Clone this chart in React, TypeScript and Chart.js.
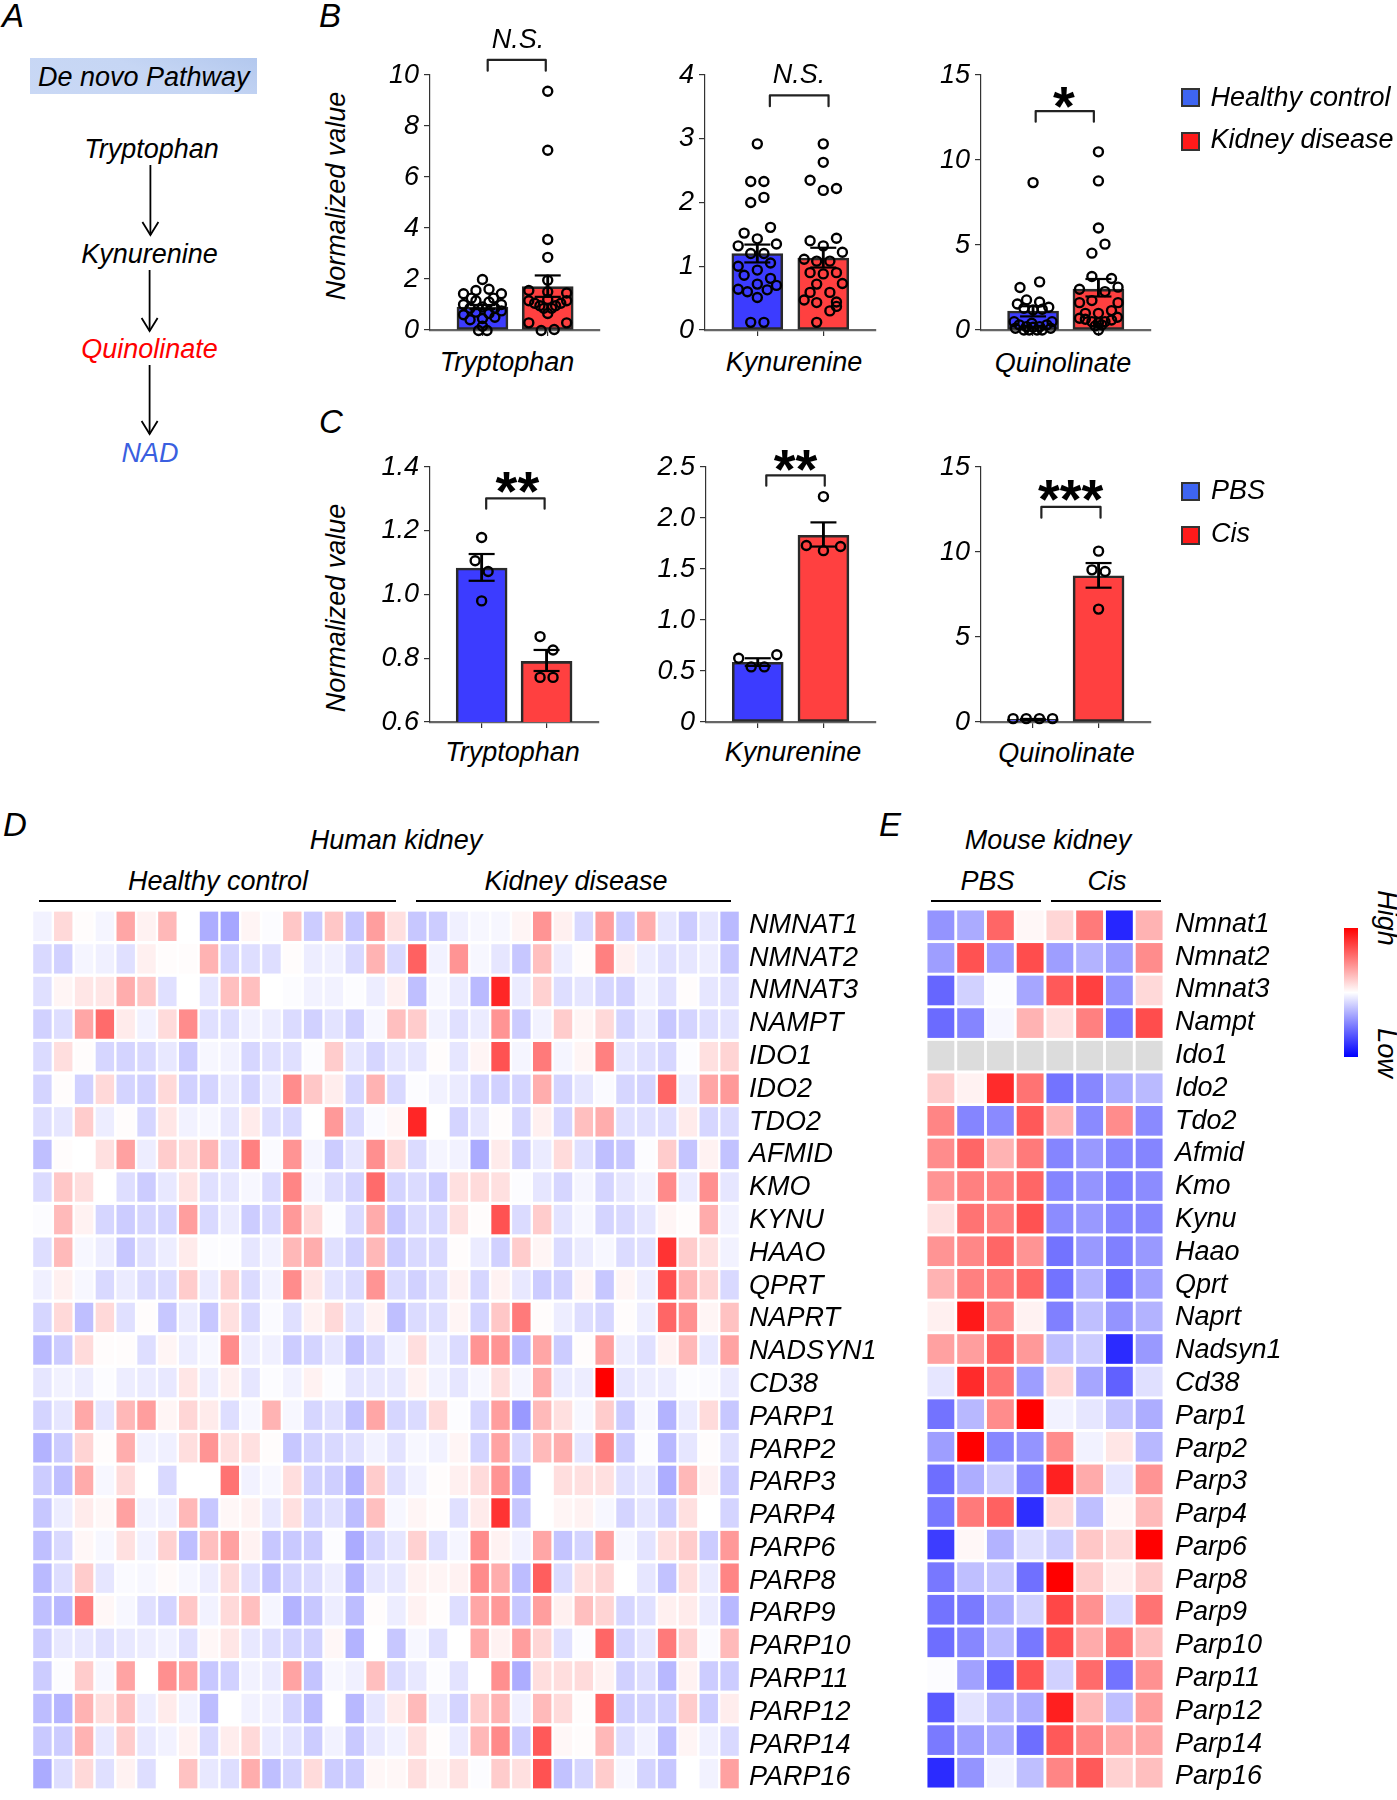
import React, { useEffect, useRef } from "react";
import { Chart, registerables } from "chart.js";

Chart.register(...registerables);

const FONT = '"Liberation Sans", Arial, sans-serif';

// ---------- Panel B data ----------
const groupsB = ["Healthy control", "Kidney disease"];
const groupsC = ["PBS", "Cis"];
const metabolites = ["Tryptophan", "Kynurenine", "Quinolinate"];

const bTrpMeans = [0.9, 1.7];
const bTrpLow = [0.82, 1.3];
const bTrpHigh = [0.98, 2.14];
const bTrpHealthy = [[0,1.98],[.1,1.6],[-.1,1.55],[-.29,1.42],[.29,1.42],[-.17,1.25],[.17,1.25],[-.29,1.0],[-.1,1.15],[.1,1.1],[.29,1.0],[-.19,.85],[0,.9],[.19,.85],[-.29,.6],[-.1,.7],[.1,.65],[.29,.75],[-.19,.4],[0,.45],[.19,.5],[0,.15],[-.06,-.02],[.07,-.02]];
const bTrpDisease = [[0,9.36],[0,7.05],[0,3.55],[0,2.85],[0,1.95],[-.29,1.55],[0,1.5],[.29,1.45],[-.29,1.15],[.29,1.15],[-.2,1.05],[.2,1.05],[-.12,.95],[.12,.95],[-.06,.85],[.06,.85],[0,.65],[-.29,.28],[.29,.28],[-.1,-.02],[.1,.02],[0,1.2]];

const bKynMeans = [1.2, 1.13];
const bKynLow = [1.06, 0.98];
const bKynHigh = [1.34, 1.29];
const bKynHealthy = [[0,2.92],[-.1,2.33],[.1,2.33],[-.1,2.0],[.1,2.08],[.2,1.61],[-.2,1.52],[0,1.43],[-.29,1.32],[.29,1.35],[-.1,1.2],[.1,1.2],[-.29,1.0],[.2,1.05],[0,.94],[-.2,.86],[.2,.81],[-.29,.64],[-.15,.6],[0,.72],[.15,.63],[.29,.7],[0,.51],[-.1,.12],[.1,.12]];
const bKynDisease = [[0,2.92],[0,2.63],[-.2,2.35],[0,2.19],[.2,2.22],[.2,1.44],[-.2,1.4],[0,1.32],[.29,1.22],[-.29,1.11],[-.1,1.08],[.1,1.08],[-.2,.9],[0,.88],[.2,.9],[-.1,.72],[.29,.73],[-.2,.59],[.1,.59],[-.29,.47],[-.1,.43],[.2,.44],[.2,.37],[.1,.3],[-.1,.12]];

const bQuiMeans = [1.12, 2.4];
const bQuiLow = [0.8, 1.97];
const bQuiHigh = [1.4, 3.0];
const bQuiHealthy = [[0,8.67],[.1,2.83],[-.2,2.5],[-.1,1.77],[.1,1.65],[-.24,1.53],[.24,1.34],[-.14,1.28],[0,1.18],[.14,1.22],[-.29,.49],[.29,.49],[-.21,.3],[-.1,.2],[0,.16],[.1,.2],[.21,.3],[-.27,.1],[-.14,0],[-.06,0],[.06,0],[.14,0],[.27,.1],[-.02,.4]];
const bQuiDisease = [[0,10.48],[0,8.77],[0,6.0],[.1,5.05],[-.1,4.52],[-.1,3.15],[.2,3.03],[.3,2.52],[-.29,2.4],[.1,2.26],[-.29,1.61],[-.1,1.73],[.3,1.61],[0,.98],[-.2,.98],[.2,1.14],[-.29,.69],[-.2,.63],[-.1,.49],[0,.43],[.1,.49],[.2,.59],[.29,.75],[-.05,.24],[.05,.3],[0,0]];

// ---------- Panel C data ----------
const cTrpMeans = [1.083, 0.79];
const cTrpLow = [1.043, 0.76];
const cTrpHigh = [1.127, 0.826];
const cTrpPbs = [[0,1.179],[-.1,1.106],[.1,1.072],[0,.98]];
const cTrpCis = [[-.1,.868],[.1,.826],[-.1,.74],[.1,.74]];

const cKynMeans = [0.586, 1.83];
const cKynLow = [0.55, 1.72];
const cKynHigh = [0.625, 1.957];
const cKynPbs = [[-.29,.625],[.29,.66],[-.1,.54],[.1,.54]];
const cKynCis = [[0,2.21],[-.26,1.73],[.26,1.72],[0,1.68]];

const cQuiMeans = [0.15, 8.6];
const cQuiLow = [0.12, 7.9];
const cQuiHigh = [0.18, 9.35];
const cQuiPbs = [[-.3,.2],[-.1,.2],[.1,.2],[.3,.2]];
const cQuiCis = [[0,10.05],[-.1,8.95],[.1,8.85],[0,6.64]];

const ticksTen = [0, 2, 4, 6, 8, 10];
const ticksTenLabels = ["0", "2", "4", "6", "8", "10"];
const ticksFour = [0, 1, 2, 3, 4];
const ticksFourLabels = ["0", "1", "2", "3", "4"];
const ticksFifteen = [0, 5, 10, 15];
const ticksFifteenLabels = ["0", "5", "10", "15"];
const ticksRatio = [0.6, 0.8, 1.0, 1.2, 1.4];
const ticksRatioLabels = ["0.6", "0.8", "1.0", "1.2", "1.4"];
const ticksHalf = [0, 0.5, 1.0, 1.5, 2.0, 2.5];
const ticksHalfLabels = ["0", "0.5", "1.0", "1.5", "2.0", "2.5"];

// ---------- Heatmaps ----------
const humanGenes = ["NMNAT1","NMNAT2","NMNAT3","NAMPT","IDO1","IDO2","TDO2","AFMID","KMO","KYNU","HAAO","QPRT","NAPRT","NADSYN1","CD38","PARP1","PARP2","PARP3","PARP4","PARP6","PARP8","PARP9","PARP10","PARP11","PARP12","PARP14","PARP16"];
const humanValues = [
[-.05,.15,.01,-.04,.35,.05,.28,0,-.32,-.35,.04,-.01,.22,-.2,.22,-.22,.38,.12,-.22,-.2,-.06,-.03,-.03,.04,.42,.06,-.15,.38,-.2,.32,-.1,-.2,-.1,-.27],
[-.15,-.18,-.04,-.06,-.12,.06,.01,.01,.3,-.17,-.13,-.13,.01,-.07,-.06,-.15,.3,-.15,.62,-.05,.42,-.03,-.1,-.22,.25,-.07,.01,.5,.06,-.07,-.12,-.1,-.07,-.22],
[-.12,.04,.1,.1,.32,.22,-.12,0,-.1,.25,.25,0,-.01,-.05,-.05,-.01,-.07,.06,-.25,-.03,-.08,-.27,.85,-.08,.18,-.13,-.1,-.16,-.18,-.05,-.12,.01,-.1,-.12],
[-.18,-.13,.35,.58,.08,-.05,.14,.45,-.12,-.13,-.05,-.07,-.14,-.18,-.11,-.18,-.03,.25,.2,-.05,-.12,-.08,.42,-.2,-.05,.2,.04,.15,-.17,-.08,-.22,-.17,-.13,-.11],
[-.14,.13,.01,-.16,-.17,-.15,-.09,-.2,-.03,-.05,-.16,-.12,-.12,-.01,.2,-.1,-.16,-.1,-.1,.01,-.1,.04,.68,-.04,.52,-.04,.04,.5,-.1,-.12,-.16,-.01,.12,.17],
[-.17,.01,-.18,.15,-.17,-.18,.15,-.18,-.17,-.09,-.17,-.08,.45,.22,.07,-.16,.3,-.15,-.01,-.05,-.08,-.16,-.18,-.17,.32,-.17,-.1,-.02,-.16,-.17,.6,-.08,.35,.4],
[-.13,-.1,.2,-.07,.01,-.16,.1,-.05,-.03,-.1,.08,-.13,-.15,0,.4,-.15,-.02,.03,.85,0,-.17,-.1,.01,-.16,.06,-.17,.25,.32,-.12,-.12,-.13,.08,-.16,-.14],
[-.25,.01,0,.12,.37,-.07,.2,.14,.29,-.12,.5,-.02,.42,-.04,-.2,-.1,.44,.15,-.14,-.04,-.05,-.33,.08,-.18,-.08,.14,-.12,-.25,-.22,-.01,.2,-.23,.05,-.24],
[-.14,.22,.13,0,-.13,-.2,-.09,.11,-.12,-.1,-.03,-.14,.48,-.04,-.13,-.17,.58,-.17,-.14,-.2,.12,.14,.12,-.01,-.1,-.16,-.04,-.17,-.1,-.05,.46,-.08,.44,-.1],
[-.01,.27,.05,-.16,-.2,-.16,-.17,.38,-.15,-.08,-.2,-.15,.4,.14,-.01,-.14,.33,-.22,-.14,-.15,.12,.01,.68,-.14,.2,-.11,-.03,-.17,-.15,-.1,.04,.01,.33,-.05],
[-.13,.27,-.03,-.07,-.22,-.12,-.07,.08,-.01,-.01,-.1,-.05,.28,.32,-.12,-.18,.28,-.2,-.15,-.15,.01,-.08,-.18,.2,.04,-.14,-.08,-.03,-.14,-.12,.8,.2,.12,-.05],
[-.06,.06,-.03,-.15,-.08,-.14,-.14,.2,-.08,.18,-.14,-.05,.45,.1,-.11,-.14,.42,-.14,-.18,-.13,.05,-.16,.05,-.09,-.2,-.18,.04,-.22,.04,-.07,.7,.3,.17,-.15],
[-.16,.15,-.25,.15,-.12,.01,-.22,-.08,-.22,.12,-.15,-.02,-.12,.05,.15,-.11,.05,-.25,-.14,-.13,.04,-.17,.22,.52,.01,-.07,-.13,-.16,.01,-.07,.6,.43,.04,.24],
[-.27,-.2,.14,.01,.01,-.13,.04,-.07,-.03,.45,-.07,-.06,-.2,-.17,-.1,-.24,-.16,-.05,.13,-.07,-.14,.42,.42,-.27,.35,-.2,.01,.38,-.07,-.12,.05,.28,-.09,.36],
[-.1,-.05,-.07,-.01,-.07,-.08,-.09,.1,-.07,.06,-.1,-.01,-.05,.05,-.01,-.1,-.09,-.09,.05,-.05,-.1,-.03,.13,-.04,.33,-.08,-.07,1,-.1,-.07,-.07,-.01,-.02,-.08],
[-.17,-.1,.34,-.1,.28,.38,.04,.16,.08,-.13,-.03,.3,-.03,-.16,-.12,-.24,.35,-.16,-.14,.14,-.01,-.16,.38,-.4,.27,.12,-.03,.2,-.2,-.03,-.3,-.08,.14,-.22],
[-.3,-.2,.17,.01,.32,-.05,-.06,.13,.42,.12,.12,.01,-.22,-.17,-.15,-.12,-.05,-.11,-.03,-.05,.04,-.17,.36,-.15,.27,.32,-.1,.5,-.2,-.01,-.28,-.1,.01,-.12],
[-.2,-.25,.33,-.03,.14,0,-.15,0,0,.55,-.05,-.03,.13,-.18,-.19,-.3,.2,-.12,-.05,.01,.06,.14,.42,-.3,0,.13,.12,.12,-.12,-.09,-.32,.28,.05,-.2],
[-.22,-.07,.08,.03,.37,-.05,-.06,.28,-.22,.03,.05,-.09,.12,-.16,-.12,-.26,.25,-.03,.04,.01,-.12,.08,.8,-.22,0,.04,.05,-.03,-.17,-.1,-.2,.12,0,-.17],
[-.25,-.15,.03,-.03,.12,-.05,.18,-.25,.25,.37,.05,-.22,-.21,-.2,-.01,-.33,-.17,-.1,.18,-.12,-.04,.45,.05,-.05,.35,-.23,-.17,.38,-.03,-.11,.13,.2,-.2,.4],
[-.27,-.13,.2,-.1,-.02,-.03,.02,-.03,-.07,.15,-.12,-.24,-.17,-.14,-.07,-.29,-.1,-.09,.05,.04,.05,.45,.32,-.26,.63,-.14,.12,.17,0,-.1,-.24,.13,-.08,.48],
[-.25,-.28,.52,.03,-.03,-.12,-.17,.22,-.05,.15,.25,-.04,-.3,-.22,-.07,-.26,.01,-.07,.05,.01,-.13,.35,.4,-.22,.38,.06,.25,.17,-.16,-.12,.06,.08,-.08,-.28],
[-.2,-.09,-.09,-.12,-.09,-.07,-.05,-.12,.03,.1,-.09,-.13,-.17,-.18,.03,-.3,0,-.22,-.03,-.12,0,.34,.05,.38,.16,-.12,-.01,.6,-.17,-.1,.52,.18,-.02,.27],
[-.2,-.01,.2,-.03,.36,0,.44,.36,-.22,-.18,-.05,-.08,.36,-.23,-.03,-.06,.25,-.14,-.09,-.01,-.11,0,.44,-.32,.13,.13,.14,.05,-.18,-.13,-.28,.05,-.2,-.2],
[-.26,-.29,.3,.13,.25,-.07,.08,-.05,-.26,0,-.05,-.06,-.17,-.26,0,-.28,-.1,.08,.27,-.07,-.17,.2,.3,-.06,.27,.14,.01,.62,-.19,-.17,-.19,.2,-.2,.07],
[-.21,-.2,.3,-.09,.2,-.09,-.05,.05,-.15,.07,.15,-.08,-.11,-.2,-.05,-.21,-.09,-.05,.12,.01,-.08,.28,.46,-.2,.65,.03,.01,.28,-.13,-.05,-.25,.04,-.06,-.15],
[-.33,-.13,.15,-.12,.05,-.13,0,.24,-.09,-.13,.32,-.25,-.17,.14,-.2,-.2,.03,.03,.13,.04,.11,-.01,.2,.12,.68,-.24,-.16,.2,-.03,-.17,-.22,0,-.05,.37],
];

const mouseGenes = ["Nmnat1","Nmnat2","Nmnat3","Nampt","Ido1","Ido2","Tdo2","Afmid","Kmo","Kynu","Haao","Qprt","Naprt","Nadsyn1","Cd38","Parp1","Parp2","Parp3","Parp4","Parp6","Parp8","Parp9","Parp10","Parp11","Parp12","Parp14","Parp16"];
const mouseValues: (number | null)[][] = [
[-.42,-.33,.6,.03,.16,.52,-.85,.3],
[-.38,.68,-.38,.7,-.38,-.3,-.38,.45],
[-.6,-.18,-.01,-.35,.65,.75,-.42,.15],
[-.58,-.48,-.03,.3,.12,.5,-.52,.7],
[null,null,null,null,null,null,null,null],
[.2,.05,.83,.55,-.55,-.47,-.32,-.27],
[.48,-.48,-.46,.65,.3,-.46,.45,-.46],
[.45,.6,.3,.52,-.48,-.4,-.47,-.48],
[.42,.5,.5,.6,-.48,-.42,-.5,-.45],
[.12,.55,.5,.68,-.45,-.4,-.48,-.47],
[.42,.47,.6,.42,-.55,-.4,-.5,-.4],
[.3,.5,.52,.6,-.55,-.3,-.57,-.37],
[.06,.9,.48,.05,-.5,-.25,-.42,-.3],
[.37,.38,.63,.4,-.25,-.2,-.83,-.4],
[-.1,.83,.55,-.38,.16,-.35,-.62,-.12],
[-.55,-.28,.45,1,-.05,-.1,-.23,-.32],
[-.38,1,-.47,-.42,.45,-.05,.1,-.28],
[-.57,-.32,-.2,-.47,.87,.33,-.1,.42],
[-.53,.52,.62,-.82,.15,-.25,.03,.27],
[-.76,.03,-.3,-.13,-.2,.22,.15,1],
[-.53,-.25,-.22,-.56,1,.2,.06,.2],
[-.55,-.52,-.32,-.18,.72,.43,-.15,.55],
[-.57,-.47,-.27,-.53,.68,.33,.55,.25],
[-.01,-.37,-.6,.67,-.18,.58,-.55,.43],
[-.65,-.11,-.27,-.32,.88,.28,-.25,.38],
[-.52,-.38,-.32,-.57,.65,.47,.35,.35],
[-.83,-.42,-.05,-.25,.48,.65,.18,.25],
];

const pathwaySteps = ["Tryptophan", "Kynurenine", "Quinolinate", "NAD"];

// ---------- helpers ----------
const BLUE = "#3c3cff";
const RED = "#ff4040";
const INK = "#2a2a2a";

function heatColor(v: number | null) {
  if (v === null) return "#dcdcdc";
  const k = Math.round(255 * (1 - Math.abs(v)));
  return v >= 0 ? `rgb(255,${k},${k})` : `rgb(${k},${k},255)`;
}

function noScalePadding(s: any) {
  s.paddingLeft = 0;
  s.paddingRight = 0;
  s.paddingTop = 0;
  s.paddingBottom = 0;
}

function barConfig(p: any) {
  const L = 70, T = 70, B = 14, R = 30;
  const unit = p.c2 - p.c1;
  const xMin = 1 - (p.c1 - p.axisX) / unit;
  const xMax = 2 + (p.axisR - p.c2) / unit;
  const toPts = (arr: number[][], g: number) => arr.map((d) => ({ x: g + d[0], y: d[1] }));
  const stem = (i: number) => ({ x: i + 1, y: [p.low[i], p.high[i]] });
  const config = {
    type: "bar",
    data: {
      datasets: [
        {
          type: "line", data: p.bracket, borderColor: "#222", borderWidth: 2.2, pointRadius: 0,
          tension: 0, clip: false, order: 1, borderJoinStyle: "round", borderCapStyle: "round",
        },
        { type: "scatter", data: toPts(p.pts1, 1), pointRadius: 4.5, pointBorderWidth: 2.4, pointBackgroundColor: "transparent", pointBorderColor: "#000", clip: false, order: 2 },
        { type: "scatter", data: toPts(p.pts2, 2), pointRadius: 4.5, pointBorderWidth: 2.4, pointBackgroundColor: "transparent", pointBorderColor: "#000", clip: false, order: 2 },
        {
          type: "scatter",
          data: [1, 2].flatMap((g, i) => [{ x: g, y: p.low[i] }, { x: g, y: p.high[i] }]),
          pointStyle: "line", pointRadius: 13, pointBorderWidth: 2.2, pointBorderColor: "#000", clip: false, order: 3,
        },
        { type: "bar", data: [stem(0), stem(1)], backgroundColor: "#000", barThickness: 2.2, grouped: false, borderWidth: 0, order: 4 },
        {
          type: "bar",
          data: [{ x: 1, y: p.means[0] }, { x: 2, y: p.means[1] }],
          backgroundColor: [BLUE, RED], borderColor: INK, borderWidth: 2.6, borderSkipped: false,
          barThickness: 51, grouped: false, order: 5,
        },
      ],
    },
    options: {
      animation: false, responsive: false, maintainAspectRatio: false, devicePixelRatio: 1,
      layout: { autoPadding: false, padding: { left: 0, top: T, right: R, bottom: 0 } },
      plugins: { legend: { display: false }, tooltip: { enabled: false } },
      scales: {
        x: {
          type: "linear", min: xMin, max: xMax, offset: false,
          grid: { offset: false, drawOnChartArea: false, drawTicks: true, tickLength: 6, color: "#333", lineWidth: 1.2 },
          border: { display: true, color: "#666", width: 2.2 },
          afterBuildTicks: (s: any) => { s.ticks = [{ value: 1 }, { value: 2 }]; },
          ticks: { callback: () => "", autoSkip: false, maxRotation: 0, minRotation: 0 },
          afterFit: (s: any) => { s.height = B; noScalePadding(s); },
        },
        y: {
          type: "linear", min: p.yTicks[0], max: p.yTicks[p.yTicks.length - 1],
          grid: { drawOnChartArea: false, drawTicks: true, tickLength: 6, color: "#333", lineWidth: 1.2 },
          border: { display: true, color: "#333", width: 1.2 },
          afterBuildTicks: (s: any) => { s.ticks = p.yTicks.map((value: number) => ({ value })); },
          ticks: {
            autoSkip: false, padding: 5, color: "#000",
            font: { family: FONT, size: 27, style: "italic" },
            callback: (v: number) => p.yLabels[p.yTicks.findIndex((t: number) => Math.abs(t - v) < 1e-6)],
          },
          afterFit: (s: any) => { s.width = L; noScalePadding(s); },
        },
      },
    },
  };
  return {
    config,
    left: p.axisX - L,
    top: p.top - T,
    width: L + (p.axisR - p.axisX) + R,
    height: T + (p.bottom - p.top) + B,
  };
}

function bracket(x1: number, x2: number, yTop: number, yBottom: number) {
  return [{ x: x1, y: yBottom }, { x: x1, y: yTop }, { x: x2, y: yTop }, { x: x2, y: yBottom }];
}

function heatConfig(genes: string[], values: (number | null)[][], g: any) {
  const W = 170, pad = 12;
  const last = genes.length - 1;
  const labelAt = (i: number) => i + 0.5 - 0.03 + (0.16 * i) / last;
  const config = {
    type: "bar",
    data: {
      labels: values[0].map((_, c) => String(c + 1)),
      datasets: values.map((row, r) => ({
        label: genes[r],
        data: row.map(() => [r + g.gapY, r + 1 - g.gapY]),
        backgroundColor: row.map(heatColor),
        borderWidth: 0,
        inflateAmount: 0,
        grouped: false,
        categoryPercentage: 1,
        barPercentage: g.barPct,
      })),
    },
    options: {
      animation: false, responsive: false, maintainAspectRatio: false, devicePixelRatio: 1,
      layout: { autoPadding: false, padding: { left: 0, top: pad, right: 0, bottom: pad } },
      plugins: { legend: { display: false }, tooltip: { enabled: false } },
      scales: {
        x: { type: "category", display: false, offset: true },
        y: {
          type: "linear", position: "right", reverse: true, min: 0, max: genes.length,
          grid: { display: false, drawTicks: false },
          border: { display: false },
          afterBuildTicks: (s: any) => { s.ticks = genes.map((_, i) => ({ value: labelAt(i) })); },
          ticks: {
            autoSkip: false, padding: g.labelGap, color: "#000",
            font: { family: FONT, size: 27, style: "italic" },
            callback: (v: number) => genes[Math.round(v - 0.5)],
          },
          afterFit: (s: any) => { s.width = W; noScalePadding(s); },
        },
      },
    },
  };
  return {
    config,
    left: g.left,
    top: g.top - pad,
    width: g.right - g.left + W,
    height: g.bottom - g.top + 2 * pad,
  };
}

function colorbarConfig() {
  return {
    type: "bar",
    data: {
      labels: ["scale"],
      datasets: [{
        data: [[-1, 1]],
        borderWidth: 0,
        inflateAmount: 0,
        categoryPercentage: 1,
        barPercentage: 1,
        backgroundColor: (ctx: any) => {
          const { chart } = ctx;
          const a = chart.chartArea;
          if (!a) return "#fff";
          const grad = chart.ctx.createLinearGradient(0, a.top, 0, a.bottom);
          grad.addColorStop(0, "#ff0000");
          grad.addColorStop(0.5, "#ffffff");
          grad.addColorStop(1, "#0000ff");
          return grad;
        },
      }],
    },
    options: {
      animation: false, responsive: false, maintainAspectRatio: false, devicePixelRatio: 1,
      layout: { autoPadding: false, padding: 0 },
      plugins: { legend: { display: false }, tooltip: { enabled: false } },
      scales: {
        x: { display: false },
        y: { display: false, min: -1, max: 1 },
      },
    },
  };
}

function ChartBox({ spec }: { spec: any }) {
  const ref = useRef<HTMLCanvasElement | null>(null);
  useEffect(() => {
    const chart = new Chart(ref.current as HTMLCanvasElement, spec.config);
    return () => chart.destroy();
  }, []);
  return (
    <canvas
      ref={ref}
      width={Math.round(spec.width)}
      height={Math.round(spec.height)}
      style={{ position: "absolute", left: spec.left, top: spec.top, width: Math.round(spec.width), height: Math.round(spec.height) }}
    />
  );
}

function T({ x, y, text, size = 27, color = "#000", anchor = "center", rot = 0, weight = "normal", style = "italic" }: any) {
  const tx = anchor === "left" ? "0" : "-50%";
  return (
    <div
      style={{
        position: "absolute", left: x, top: y, whiteSpace: "nowrap", lineHeight: 1,
        fontFamily: FONT, fontStyle: style, fontSize: size, fontWeight: weight, color,
        transform: `translate(${tx},-50%) rotate(${rot}deg)`,
      }}
    >
      {text}
    </div>
  );
}

const Rule = ({ x1, x2, y, h = 2.2, color = "#000" }: any) => (
  <div style={{ position: "absolute", left: x1, top: y - h / 2, width: x2 - x1, height: h, background: color }} />
);

const Swatch = ({ x, y, color }: any) => (
  <div style={{ position: "absolute", left: x, top: y, width: 19, height: 19, boxSizing: "border-box", background: color, border: "2px solid #333" }} />
);

function Arrow({ x, y1, y2 }: any) {
  return (
    <g stroke="#000" strokeWidth={1.8} fill="none">
      <line x1={x} y1={y1} x2={x} y2={y2} />
      <polyline points={`${x - 8},${y2 - 13} ${x},${y2} ${x + 8},${y2 - 13}`} />
    </g>
  );
}

// ---------- panel specs ----------
const topB = 75, botB = 330, topC = 467.3, botC = 722;
const panels = [
  { axisX: 429.5, axisR: 599.6, c1: 482, c2: 547.3, top: topB, bottom: botB, yTicks: ticksTen, yLabels: ticksTenLabels, means: bTrpMeans, low: bTrpLow, high: bTrpHigh, pts1: bTrpHealthy, pts2: bTrpDisease, bracket: bracket(1.08, 1.97, 10.59, 10.17) },
  { axisX: 705.1, axisR: 875.7, c1: 757.3, c2: 823.1, top: topB, bottom: botB, yTicks: ticksFour, yLabels: ticksFourLabels, means: bKynMeans, low: bKynLow, high: bKynHigh, pts1: bKynHealthy, pts2: bKynDisease, bracket: bracket(1.19, 2.08, 3.68, 3.51) },
  { axisX: 980.9, axisR: 1151, c1: 1033, c2: 1098.4, top: topB, bottom: botB, yTicks: ticksFifteen, yLabels: ticksFifteenLabels, means: bQuiMeans, low: bQuiLow, high: bQuiHigh, pts1: bQuiHealthy, pts2: bQuiDisease, bracket: bracket(1.04, 1.93, 12.88, 12.25) },
  { axisX: 430.1, axisR: 599.3, c1: 481.8, c2: 546.8, top: topC, bottom: botC, yTicks: ticksRatio, yLabels: ticksRatioLabels, means: cTrpMeans, low: cTrpLow, high: cTrpHigh, pts1: cTrpPbs, pts2: cTrpCis, bracket: bracket(1.07, 1.97, 1.3016, 1.269) },
  { axisX: 705.7, axisR: 875.2, c1: 757.3, c2: 822.8, top: topC, bottom: botC, yTicks: ticksHalf, yLabels: ticksHalfLabels, means: cKynMeans, low: cKynLow, high: cKynHigh, pts1: cKynPbs, pts2: cKynCis, bracket: bracket(1.13, 2.02, 2.418, 2.317) },
  { axisX: 981.2, axisR: 1151.1, c1: 1033, c2: 1098.7, top: topC, bottom: botC, yTicks: ticksFifteen, yLabels: ticksFifteenLabels, means: cQuiMeans, low: cQuiLow, high: cQuiHigh, pts1: cQuiPbs, pts2: cQuiCis, bracket: bracket(1.13, 2.03, 12.65, 12.02) },
];

const humanSpec = heatConfig(humanGenes, humanValues, { left: 31.8, right: 740.2, top: 909.5, bottom: 1789, gapY: 0.05, barPct: 0.883, labelGap: 9 });
const mouseSpec = heatConfig(mouseGenes, mouseValues, { left: 925.7, right: 1163.9, top: 908.5, bottom: 1788.5, gapY: 0.045, barPct: 0.903, labelGap: 11 });
const colorbarSpec = { config: colorbarConfig(), left: 1344, top: 928, width: 14, height: 129 };

export default function App() {
  const specs = panels.map(barConfig);
  return (
    <div style={{ position: "absolute", left: 0, top: 0, width: 1397, height: 1800, background: "#fff", overflow: "hidden" }}>
      {specs.map((s, i) => <ChartBox key={i} spec={s} />)}
      <ChartBox spec={humanSpec} />
      <ChartBox spec={mouseSpec} />
      <ChartBox spec={colorbarSpec} />

      {/* Panel letters */}
      <T x={13} y={15} text="A" size={33} />
      <T x={330} y={15} text="B" size={33} />
      <T x={331} y={421} text="C" size={33} />
      <T x={15} y={824} text="D" size={33} />
      <T x={890} y={824} text="E" size={33} />

      {/* Panel A */}
      <div style={{ position: "absolute", left: 30, top: 58, width: 227, height: 36, background: "linear-gradient(200deg,#b3c8ee 0%,#c6d6f4 45%,#c9d8f5 100%)" }} />
      <T x={143.8} y={77} text="De novo Pathway" />
      <T x={151.5} y={149} text={pathwaySteps[0]} />
      <T x={149.6} y={254} text={pathwaySteps[1]} />
      <T x={149.6} y={349} text={pathwaySteps[2]} color="#ff0000" />
      <T x={150} y={453} text={pathwaySteps[3]} color="#3a5fe0" />
      <svg width={300} height={460} style={{ position: "absolute", left: 0, top: 0 }}>
        <Arrow x={150.4} y1={165} y2={235} />
        <Arrow x={149.6} y1={270} y2={331} />
        <Arrow x={149.6} y1={365} y2={434} />
      </svg>

      {/* Panel B text */}
      <T x={336} y={196} text="Normalized value" rot={-90} />
      <T x={518} y={39} text="N.S." size={27} />
      <T x={799} y={74} text="N.S." size={27} />
      <T x={1064} y={106} text="*" size={56} weight="bold" style="normal" />
      <T x={507} y={362} text={metabolites[0]} />
      <T x={794} y={362} text={metabolites[1]} />
      <T x={1063} y={363} text={metabolites[2]} />
      <Swatch x={1181} y={88} color="#3e65f2" />
      <Swatch x={1181} y={132} color="#ff1a1a" />
      <T x={1210.5} y={96.7} text={groupsB[0]} anchor="left" />
      <T x={1210.5} y={139.3} text={groupsB[1]} anchor="left" />

      {/* Panel C text */}
      <T x={335.5} y={608} text="Normalized value" rot={-90} />
      <T x={517.4} y={490.5} text="**" size={56} weight="bold" style="normal" />
      <T x={795.6} y={469} text="**" size={56} weight="bold" style="normal" />
      <T x={1070.6} y={499} text="***" size={56} weight="bold" style="normal" />
      <T x={512.5} y={751.7} text={metabolites[0]} />
      <T x={793} y={751.7} text={metabolites[1]} />
      <T x={1066.5} y={753} text={metabolites[2]} />
      <Swatch x={1180.5} y={482} color="#3e65f2" />
      <Swatch x={1180.5} y={526} color="#ff1a1a" />
      <T x={1211} y={490} text={groupsC[0]} anchor="left" />
      <T x={1211} y={533.3} text={groupsC[1]} anchor="left" />

      {/* Heatmap headers */}
      <T x={396} y={840} text="Human kidney" />
      <T x={218} y={881} text={groupsB[0]} />
      <T x={576} y={881} text={groupsB[1]} />
      <Rule x1={38.7} x2={396} y={900.7} />
      <Rule x1={416} x2={730.7} y={900.7} />
      <T x={1048} y={840} text="Mouse kidney" />
      <T x={987.6} y={881} text={groupsC[0]} />
      <T x={1107} y={881} text={groupsC[1]} />
      <Rule x1={930.5} x2={1040.8} y={900.7} />
      <Rule x1={1050.5} x2={1160.8} y={900.7} />
      <T x={1386} y={918} text="High" rot={90} />
      <T x={1386} y={1052.6} text="Low" rot={90} />
    </div>
  );
}
